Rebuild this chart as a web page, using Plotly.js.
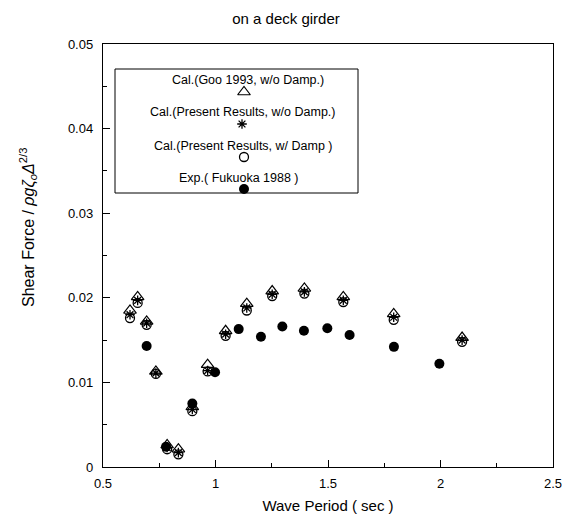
<!DOCTYPE html>
<html>
<head>
<meta charset="utf-8">
<script src="https://cdn.plot.ly/plotly-3.0.1.min.js"></script>
<style>html,body{margin:0;padding:0;background:#fff;}#chart{width:572px;height:525px;}</style>
</head>
<body>
<div id="chart"></div>
<script>
// Calculated series (shared periods)
const calPeriod = [0.62, 0.654, 0.694, 0.735, 0.785, 0.835, 0.897, 0.965, 1.045, 1.139, 1.252, 1.395, 1.568, 1.792, 2.096];
const gooNoDamp = [0.0185, 0.0201, 0.0172, 0.0113, 0.0026, 0.0021, 0.0071, 0.0121, 0.0161, 0.0193, 0.0208, 0.0211, 0.0201, 0.0181, 0.0153];
const presentNoDamp = [0.0180, 0.0197, 0.0170, 0.0111, 0.0023, 0.0017, 0.0068, 0.0114, 0.0157, 0.0188, 0.0204, 0.0207, 0.0197, 0.0177, 0.0150];
const presentDamp = [0.0176, 0.0194, 0.0168, 0.0110, 0.0021, 0.0015, 0.0066, 0.0113, 0.0155, 0.0185, 0.0202, 0.0205, 0.0195, 0.0174, 0.0148];
// Experiment
const expPeriod = [0.694, 0.78, 0.897, 0.998, 1.103, 1.202, 1.297, 1.393, 1.497, 1.596, 1.793, 1.995];
const expValue = [0.0143, 0.0024, 0.0075, 0.0112, 0.0163, 0.0154, 0.0166, 0.0161, 0.0164, 0.0156, 0.0142, 0.0122];

const legendLabels = ["Cal.(Goo 1993, w/o Damp.)", "Cal.(Present Results, w/o Damp.)", "Cal.(Present Results, w/ Damp )", "Exp.( Fukuoka 1988 )"];

const FONT = "Liberation Sans, Arial, Helvetica, sans-serif";

const styles = [
  {symbol: "triangle-up-open", size: 11, color: "#000", line: {width: 1.2, color: "#000"}},
  {symbol: "asterisk-open", size: 8, color: "#000", line: {width: 1.3, color: "#000"}},
  {symbol: "circle-open", size: 9, color: "#000", line: {width: 1.3, color: "#000"}},
  {symbol: "circle", size: 10, color: "#000"}
];

const traces = [
  {x: calPeriod, y: gooNoDamp, mode: "markers", type: "scatter", name: legendLabels[0], marker: styles[0]},
  {x: calPeriod, y: presentDamp, mode: "markers", type: "scatter", name: legendLabels[2], marker: styles[2]},
  {x: calPeriod, y: presentNoDamp, mode: "markers", type: "scatter", name: legendLabels[1], marker: styles[1]},
  {x: expPeriod, y: expValue, mode: "markers", type: "scatter", name: legendLabels[3], marker: styles[3]}
];

// legend key (hand-drawn box inside the frame): layout in pixel coordinates of the frame
const textRowPx = [80, 112, 146, 178];
const textColPx = [248, 242, 243, 239];
const symRowPx = [92, 124, 157, 189];
const symColPx = [244, 242, 244, 244];
for (let i = 0; i < 4; i++) {
  traces.push({x: [symColPx[i]], y: [symRowPx[i]], xaxis: "x2", yaxis: "y2", mode: "markers", type: "scatter",
    showlegend: false, hoverinfo: "skip", marker: styles[i]});
}
const annotations = [];
for (let i = 0; i < 4; i++) {
  annotations.push({xref: "paper", yref: "paper", x: (textColPx[i] - 103) / 450, y: (467 - textRowPx[i]) / 423, text: legendLabels[i],
    showarrow: false, borderpad: 0, font: {family: FONT, size: 12.5, color: "#000"}, xanchor: "center", yanchor: "middle"});
}
annotations.push({xref: "paper", yref: "paper", x: (28 - 103) / 450, y: (467 - 228) / 423, textangle: -90,
  text: "Shear Force / <i>ρgζ<sub>o</sub>Δ</i><sup>2/3</sup>", showarrow: false,
  font: {family: FONT, size: 16, color: "#000"}, xanchor: "center", yanchor: "middle"});

const layout = {
  width: 572, height: 525,
  margin: {l: 103, r: 19, t: 44, b: 58},
  paper_bgcolor: "#fff", plot_bgcolor: "#fff",
  showlegend: false,
  font: {family: FONT, color: "#000"},
  title: {text: "on a deck girder", font: {family: FONT, size: 15, color: "#000"}, x: 0.5, xanchor: "center", y: 0.965, yanchor: "middle"},
  xaxis: {
    range: [0.5, 2.5], dtick: 0.5, tick0: 0.5, ticks: "inside", ticklen: 7, tickwidth: 1, tickcolor: "#000",
    showline: true, linecolor: "#000", linewidth: 1.2, mirror: true, showgrid: false, zeroline: false,
    tickfont: {family: FONT, size: 13, color: "#000"}, ticklabelstandoff: 4,
    minor: {dtick: 0.25, ticks: "inside", ticklen: 4, tickcolor: "#000", showgrid: false},
    title: {text: "Wave Period ( sec )", font: {family: FONT, size: 15, color: "#000"}, standoff: 10}
  },
  yaxis: {
    range: [0, 0.05], dtick: 0.01, tick0: 0, ticks: "inside", ticklen: 7, tickwidth: 1, tickcolor: "#000",
    showline: true, linecolor: "#000", linewidth: 1.2, mirror: true, showgrid: false, zeroline: false,
    tickfont: {family: FONT, size: 13, color: "#000"}, ticklabelstandoff: 6,
    minor: {dtick: 0.005, ticks: "inside", ticklen: 4, tickcolor: "#000", showgrid: false}
  },
  xaxis2: {overlaying: "x", range: [103, 553], visible: false, fixedrange: true},
  yaxis2: {overlaying: "y", range: [467, 44], visible: false, fixedrange: true},
  shapes: [
    {type: "rect", xref: "paper", yref: "paper", x0: (115 - 103) / 450, x1: (358 - 103) / 450,
     y0: (467 - 193) / 423, y1: (467 - 69) / 423, line: {color: "#000", width: 1}, fillcolor: "rgba(0,0,0,0)"}
  ],
  annotations: annotations
};

Plotly.newPlot("chart", traces, layout, {displayModeBar: false, staticPlot: true});
</script>
</body>
</html>
